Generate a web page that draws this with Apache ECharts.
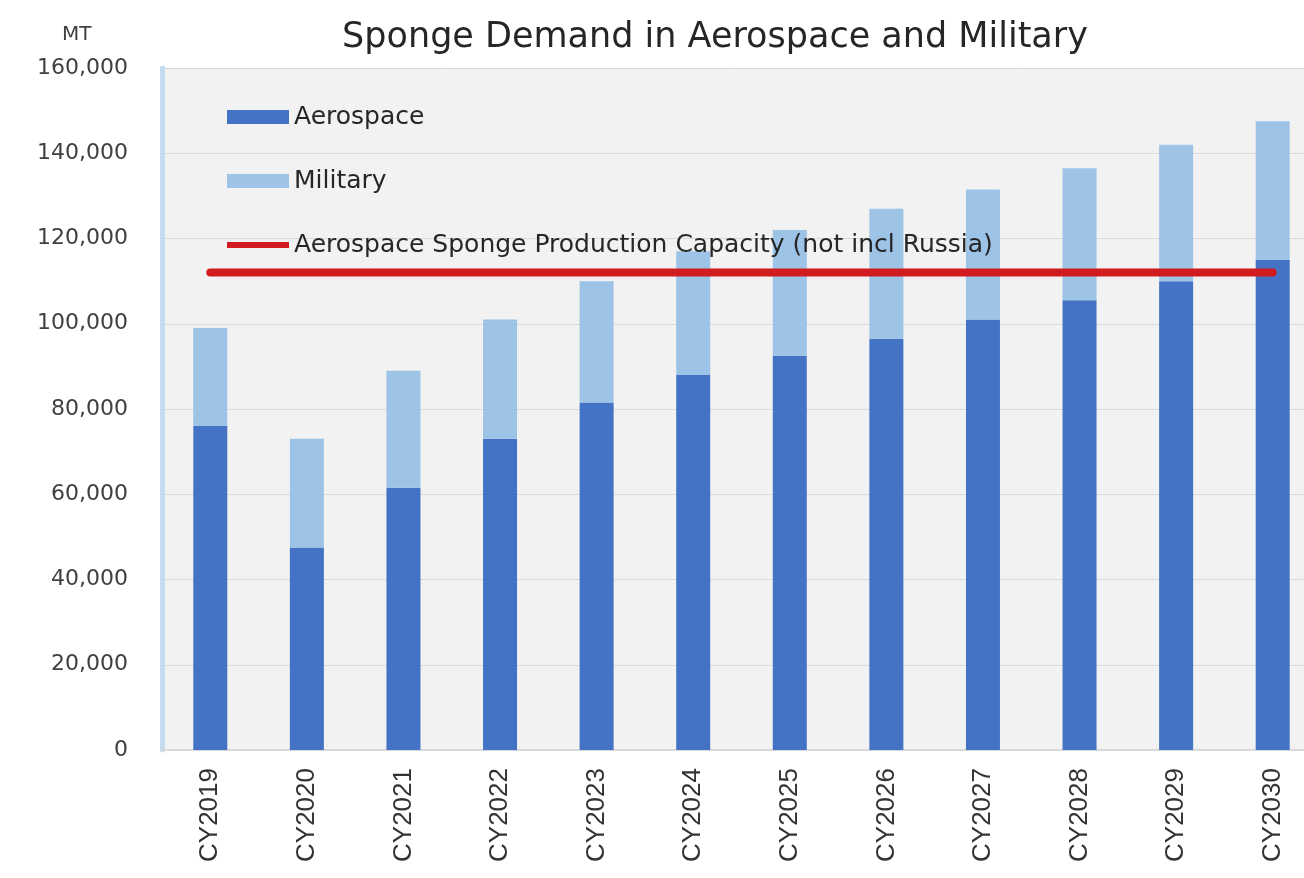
<!DOCTYPE html>
<html>
<head>
<meta charset="utf-8">
<script src="https://cdn.jsdelivr.net/npm/echarts@6/dist/echarts.min.js"></script>
<style>
html,body{margin:0;padding:0;background:#fff;}
#chart{width:1304px;height:878px;}
</style>
</head>
<body>
<div id="chart"></div>
<script>
const categories = ['CY2019','CY2020','CY2021','CY2022','CY2023','CY2024','CY2025','CY2026','CY2027','CY2028','CY2029','CY2030'];
const aerospace = [76000, 47500, 61500, 73000, 81500, 88000, 92500, 96500, 101000, 105500, 110000, 115000];
const military  = [23000, 25500, 27500, 28000, 28500, 29000, 29500, 30500, 30500, 31000, 32000, 32500];
const capacity  = [112000,112000,112000,112000,112000,112000,112000,112000,112000,112000,112000,112000];
const yMin = 0, yMax = 160000, yStep = 20000;
const capName = 'Aerospace Sponge Production Capacity (not incl Russia)';

const chart = echarts.init(document.getElementById('chart'), null, {renderer:'canvas'});
chart.setOption({
  animation: false,
  backgroundColor: '#ffffff',
  title: {
    text: 'Sponge Demand in Aerospace and Military',
    left: 710, top: 15, textAlign: 'center',
    textStyle: {fontFamily: 'DejaVu Sans', fontSize: 35, fontWeight: 'normal', color: '#262626'}
  },
  graphic: [{
    type: 'text', left: 62, top: 25,
    style: {text: 'MT', font: '20px "DejaVu Sans"', fill: '#404040'}
  }],
  legend: {
    orient: 'vertical', left: 222, top: 99,
    itemWidth: 62, itemHeight: 14, itemGap: 38,
    textStyle: {fontFamily: 'DejaVu Sans', fontSize: 25, color: '#262626', lineHeight: 26},
    data: [
      {name: 'Aerospace', icon: 'rect'},
      {name: 'Military', icon: 'rect'},
      {name: capName, icon: 'path://M0,0L100,0L100,10L0,10Z'}
    ]
  },
  grid: {
    left: 162, top: 68, bottom: 128, width: 1159,
    outerBoundsMode: 'none', containLabel: false,
    show: true, backgroundColor: '#f2f2f2', borderWidth: 0
  },
  xAxis: {
    type: 'category', data: categories,
    axisLine: {show: true, lineStyle: {color: '#d9d9d9', width: 2}},
    axisTick: {show: false},
    axisLabel: {rotate: 90, margin: 18, fontFamily: 'Liberation Sans', fontSize: 26, color: '#333333'}
  },
  yAxis: {
    type: 'value', min: yMin, max: yMax, interval: yStep,
    axisLine: {show: true, lineStyle: {color: '#c5dbf0', width: 5}},
    axisTick: {show: false},
    splitLine: {lineStyle: {color: '#d9d9d9', width: 1}},
    axisLabel: {
      margin: 34, fontFamily: 'DejaVu Sans', fontSize: 22, color: '#404040',
      formatter: v => v.toLocaleString('en-US')
    }
  },
  series: [
    {name: 'Aerospace', type: 'bar', stack: 'demand', data: aerospace, barWidth: 34,
     itemStyle: {color: '#4472c4'}},
    {name: 'Military', type: 'bar', stack: 'demand', data: military, barWidth: 34,
     itemStyle: {color: '#9dc3e6'}},
    {name: capName, type: 'line', data: capacity, symbol: 'none', z: 5,
     itemStyle: {color: '#d01c1f'},
     lineStyle: {color: '#d01c1f', width: 8, cap: 'round'}}
  ]
});
</script>
</body>
</html>
